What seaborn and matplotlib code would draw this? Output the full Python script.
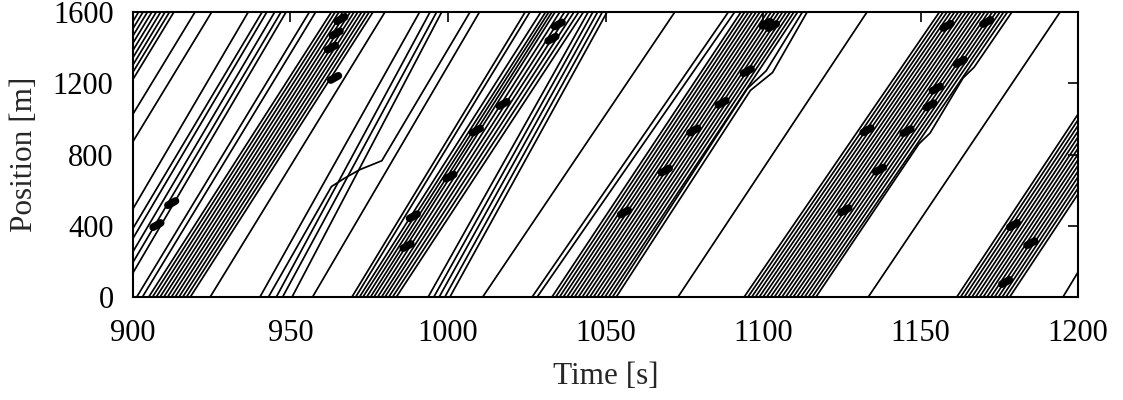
import numpy as np
import pandas as pd
import matplotlib
matplotlib.use("Agg")
import matplotlib.pyplot as plt
import seaborn as sns

# ---------------- data ----------------
# Straight trajectories: time at position 0 m and time at position 1600 m
corner_t0 = [846.8, 848.2, 849.6, 851.0, 852.4, 853.8, 855.2, 856.6, 858.0]
corner_t1 = [901.8, 903.2, 904.6, 906.0, 907.4, 908.8, 910.2, 911.6, 913.0]

single_t0 = [864.7, 870.0, 883.6,
             887.0, 889.0, 891.5, 893.5, 895.5,
             901.2, 903.0, 924.5,
             940.3, 945.5, 947.5, 950.5, 957.0,
             993.7, 995.5, 997.2, 999.0, 1000.6,
             1011.0, 1026.7, 1028.3, 1073.0, 1133.4, 1195.2]
single_t1 = [919.7, 925.0, 936.6,
             941.0, 942.5, 945.0, 947.0, 948.6,
             956.0, 958.0, 980.0,
             991.0, 994.3, 996.4, 998.0, 1010.0,
             1044.5, 1046.0, 1047.5, 1049.0, 1050.5,
             1072.0, 1089.0, 1091.0, 1133.0, 1194.3, 1250.0]

p1_t0 = [905.0, 906.2, 907.4, 908.6, 909.8, 911.0, 912.2, 913.4, 914.6, 915.8, 917.0, 918.2]
p1_t1 = [963.0, 964.2, 965.4, 966.6, 967.8, 969.0, 970.2, 971.4, 972.6, 973.8, 975.0, 976.2]

p2_t0 = [969.5, 970.7, 971.9, 973.0, 974.2, 975.4, 976.5, 977.7, 978.9, 980.0, 981.2, 982.4, 983.6]
p2_t1 = [1024.5, 1026.0, 1029.5, 1031.0, 1032.0, 1033.0, 1034.0, 1035.5, 1037.0, 1038.5, 1040.0, 1041.5, 1043.0]

p3_t0 = [1033.0, 1034.2, 1035.4, 1036.6, 1037.8, 1039.0, 1040.2, 1041.4,
         1042.6, 1043.8, 1045.0, 1046.2, 1047.4, 1048.6, 1049.8, 1051.0]
p3_t1 = [1093.0, 1094.2, 1095.4, 1096.6, 1097.8, 1099.0, 1100.2, 1101.4,
         1102.6, 1103.8, 1105.0, 1106.2, 1107.4, 1108.6, 1109.8, 1111.0]

p4_t0 = [1094.0, 1095.2, 1096.4, 1097.6, 1098.8, 1100.0, 1101.2, 1102.4, 1103.6, 1104.8,
         1106.0, 1107.2, 1108.4, 1109.6, 1110.8, 1112.0, 1113.2, 1114.4, 1115.6]
p4_t1 = [1156.0, 1157.2, 1158.4, 1159.6, 1160.8, 1162.0, 1163.2, 1164.4, 1165.6, 1166.8,
         1168.0, 1169.2, 1170.4, 1171.6, 1172.8, 1174.0, 1175.2, 1176.4, 1177.6]

p5_t0 = [1161.5, 1162.7, 1163.9, 1165.1, 1166.3, 1167.5, 1168.7, 1169.9,
         1171.1, 1172.3, 1173.5, 1174.7, 1175.9, 1177.1, 1178.3]
p5_t1 = [1221.5, 1222.7, 1223.9, 1225.1, 1226.3, 1227.5, 1228.7, 1229.9,
         1231.1, 1232.3, 1233.5, 1234.7, 1235.9, 1237.1, 1238.3]

# Trajectories with a visible slow-down (time, position waypoints)
bent_a_t = [943.0, 963.0, 967.0, 972.0, 979.0, 1007.0]
bent_a_x = [0, 620, 665, 715, 765, 1600]
bent_b_t = [1052.2, 1095.0, 1098.0, 1101.0, 1112.5]
bent_b_x = [0, 1170, 1220, 1270, 1600]
bent_c_t = [1053.4, 1096.0, 1099.5, 1103.0, 1114.0]
bent_c_x = [0, 1160, 1210, 1260, 1600]
bent_d_t = [1116.8, 1149.5, 1153.0, 1163.5, 1167.0, 1179.0]
bent_d_x = [0, 860, 920, 1230, 1290, 1600]

# Dense (black) spots where trajectories bunch together
blob_t = [907.6, 912.3, 963.0, 964.5, 966.0, 964.0,
          987.0, 989.0, 1000.6, 1009.0, 1017.5, 1033.0, 1035.0,
          1056.0, 1069.0, 1078.0, 1087.0, 1095.0, 1101.0, 1103.0,
          1126.0, 1133.0, 1137.0, 1145.7, 1153.0, 1155.0, 1162.6, 1158.4, 1171.0,
          1177.0, 1179.5, 1185.0]
blob_x = [404, 527, 1400, 1480, 1560, 1230,
          286, 453, 676, 934, 1084, 1450, 1530,
          475, 710, 935, 1090, 1268, 1534, 1521,
          487, 936, 715, 931, 1076, 1170, 1320, 1522, 1544,
          84, 404, 302]

# ---------------- build long tables ----------------
rows = []
vid = 0
for t0s, t1s in [(corner_t0, corner_t1), (single_t0, single_t1), (p1_t0, p1_t1),
                 (p2_t0, p2_t1), (p3_t0, p3_t1), (p4_t0, p4_t1), (p5_t0, p5_t1)]:
    for a, b in zip(t0s, t1s):
        rows.append((vid, 0, a, 0.0))
        rows.append((vid, 1, b, 1600.0))
        vid += 1
for ts, xs in [(bent_a_t, bent_a_x), (bent_b_t, bent_b_x), (bent_c_t, bent_c_x), (bent_d_t, bent_d_x)]:
    for k, (a, b) in enumerate(zip(ts, xs)):
        rows.append((vid, k, a, float(b)))
    vid += 1
traj = pd.DataFrame(rows, columns=["vid", "k", "time", "pos"])

brows = []
half_t, half_x = 1.2, 12.0
for i, (a, b) in enumerate(zip(blob_t, blob_x)):
    brows.append((i, 0, a - half_t, b - half_x))
    brows.append((i, 1, a + half_t, b + half_x))
blobs = pd.DataFrame(brows, columns=["bid", "k", "time", "pos"])

# ---------------- plot ----------------
sns.set_style("white")
plt.rcParams["font.family"] = ["Liberation Serif", "DejaVu Serif"]

fig = plt.figure(figsize=(11.23, 4.0), dpi=100)
ax = fig.add_axes([0.1184, 0.2575, 0.8416, 0.7125])

sns.lineplot(data=traj, x="time", y="pos", units="vid", estimator=None, sort=False,
             color="black", linewidth=1.25, legend=False, ax=ax)
sns.lineplot(data=blobs, x="time", y="pos", units="bid", estimator=None, sort=False,
             color="black", linewidth=5.5, legend=False, ax=ax,
             solid_capstyle="round")

ax.set_xlim(900, 1200)
ax.set_ylim(0, 1600)
ax.set_xticks([900, 950, 1000, 1050, 1100, 1150, 1200])
ax.set_yticks([0, 400, 800, 1200, 1600])
ax.tick_params(direction="in", length=7, width=1.2, top=True, right=True,
               labelsize=22, colors="black")
ax.tick_params(axis="x", pad=16)
ax.tick_params(axis="y", pad=14)
for s in ax.spines.values():
    s.set_linewidth(1.5)
    s.set_color("black")
ax.set_xlabel("Time [s]", fontsize=22.5, labelpad=10)
ax.set_ylabel("Position [m]", fontsize=22.5, labelpad=10)

fig.savefig("out.png", dpi=100, facecolor="white")
